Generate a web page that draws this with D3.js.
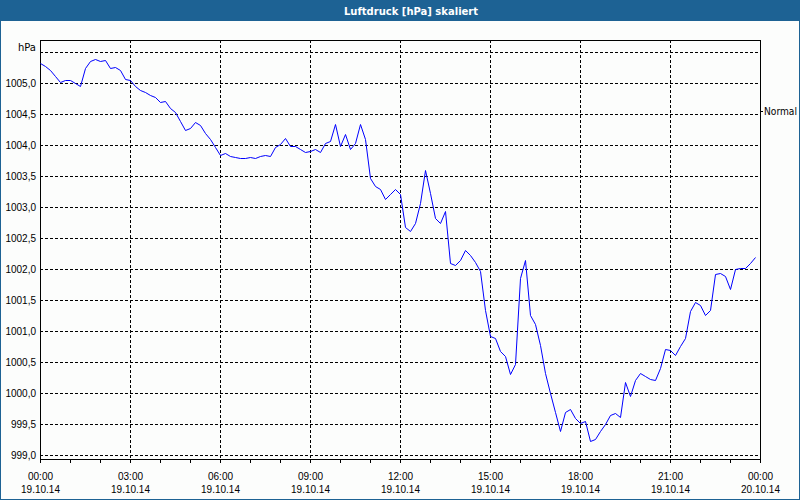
<!DOCTYPE html>
<html>
<head>
<meta charset="utf-8">
<script src="https://cdn.jsdelivr.net/npm/d3@7"></script>
<style>
body { margin: 0; background: #fcfdfc; }
svg { display: block; font-family: "DejaVu Sans", Tahoma, sans-serif; }
.axis .domain { display: none; }
.grid line { stroke: #000; stroke-dasharray: 3,2; }
.axis text { font-size: 10px; fill: #000; }
</style>
</head>
<body>
<div class="interactive-wrapper"></div>
<script>
// Luftdruck 19.10.14, alle 10 Minuten ab 00:00
const startTime = new Date(2014, 9, 19, 0, 0);
const stepMinutes = 10;
const pressure = [
  1005.33, 1005.28, 1005.21, 1005.12, 1005.01, 1005.05, 1005.05, 1005.00, 1004.95, 1005.24, 1005.36, 1005.39,
  1005.36, 1005.37, 1005.24, 1005.26, 1005.21, 1005.07, 1005.05, 1004.96, 1004.88, 1004.86, 1004.80, 1004.77,
  1004.69, 1004.71, 1004.59, 1004.54, 1004.39, 1004.25, 1004.27, 1004.37, 1004.33, 1004.19, 1004.10, 1003.96,
  1003.84, 1003.87, 1003.83, 1003.81, 1003.79, 1003.79, 1003.81, 1003.79, 1003.83, 1003.84, 1003.82, 1003.96,
  1004.02, 1004.11, 1003.99, 1003.99, 1003.94, 1003.88, 1003.90, 1003.94, 1003.88, 1004.03, 1004.07, 1004.34,
  1003.99, 1004.17, 1003.94, 1004.03, 1004.34, 1004.10, 1003.47, 1003.34, 1003.29, 1003.13, 1003.21, 1003.29,
  1003.21, 1002.68, 1002.61, 1002.75, 1003.06, 1003.60, 1003.23, 1002.82, 1002.74, 1002.93, 1002.10, 1002.07,
  1002.15, 1002.31, 1002.23, 1002.12, 1001.97, 1001.34, 1000.92, 1000.89, 1000.67, 1000.59, 1000.30, 1000.46,
  1001.85, 1002.14, 1001.25, 1001.12, 1000.78, 1000.32, 1000.00, 999.70, 999.39, 999.70, 999.74, 999.60,
  999.52, 999.55, 999.23, 999.25, 999.38, 999.50, 999.64, 999.68, 999.62, 1000.18, 999.95, 1000.21,
  1000.32, 1000.27, 1000.23, 1000.21, 1000.40, 1000.71, 1000.70, 1000.62, 1000.75, 1000.89, 1001.32, 1001.46,
  1001.42, 1001.25, 1001.34, 1001.92, 1001.94, 1001.89, 1001.67, 1002.00, 1002.02, 1002.01, 1002.10, 1002.19
];
const yGridValues = [999.0, 999.5, 1000.0, 1000.5, 1001.0, 1001.5, 1002.0, 1002.5, 1003.0, 1003.5, 1004.0, 1004.5, 1005.0, 1005.5];
const yLabelValues = [999.0, 999.5, 1000.0, 1000.5, 1001.0, 1001.5, 1002.0, 1002.5, 1003.0, 1003.5, 1004.0, 1004.5, 1005.0];
const yDomain = [998.935, 1005.694];
const xDomain = [new Date(2014, 9, 19, 0, 0), new Date(2014, 9, 20, 0, 0)];
const normalValue = 1004.55;
const title = "Luftdruck [hPa] skaliert";
const unit = "hPa";
const seriesName = "Normal";

let w = 800, h = 500;
let margin = {top: 40, right: 40, bottom: 41, left: 40};
let width = w - margin.left - margin.right;
let height = h - margin.top - margin.bottom;

let data = pressure.map((v, i) => ({date: d3.timeMinute.offset(startTime, i * stepMinutes), value: v}));

let locale = d3.formatLocale({decimal: ",", thousands: ".", grouping: [3], currency: ["", " €"]});
let fmtY = locale.format(".1f");
const formatTime = d3.timeFormat("%H:%M");
const formatDate = d3.timeFormat("%d.%m.%y");

let xScale = d3.scaleTime().domain(xDomain).range([0, width]);
let yScale = d3.scaleLinear().domain(yDomain).rangeRound([height, 0]);

let line = d3.line()
.x(d => Math.round(xScale(d.date)) + 0.5)
.y(d => yScale(d.value) + 0.5);

let svg = d3.select(".interactive-wrapper").append("svg")
.attr("width", w)
.attr("height", h);

svg.append("rect").attr("width", w).attr("height", h).attr("fill", "#fcfdfc");

// Titelleiste und Rahmen
svg.append("rect").attr("x", 0).attr("y", 0).attr("width", w).attr("height", 21).attr("fill", "#1d6294");
svg.append("rect").attr("x", 0.5).attr("y", 0.5).attr("width", w - 1).attr("height", h - 1)
.attr("fill", "none").attr("stroke", "#1d6294");
svg.append("text")
.text(title)
.attr("x", 411).attr("y", 14.5)
.attr("text-anchor", "middle")
.attr("fill", "#fff")
.style("font-size", "10px")
.style("font-weight", "bold");

let g = svg.append("g")
.attr("transform", "translate(" + margin.left + "," + margin.top + ")");

g.append("g")
.attr("class", "grid")
.call(d3.axisLeft(yScale).tickValues(yGridValues).tickSize(-width).tickFormat(""))
.select(".domain").remove();

let xGrid = g.append("g")
.attr("class", "grid")
.call(d3.axisBottom(xScale).ticks(d3.timeHour.every(3)).tickSize(height).tickFormat(""));
xGrid.select(".domain").remove();
xGrid.selectAll(".tick")
.filter(d => +d === +xDomain[0] || +d === +xDomain[1]).remove();

g.append("g")
.attr("class", "y axis")
.call(d3.axisLeft(yScale).tickValues(yLabelValues).tickSize(0).tickPadding(4).tickFormat(fmtY));

g.append("g")
.attr("class", "x axis")
.attr("transform", "translate(0," + height + ")")
.call(d3.axisBottom(xScale).ticks(d3.timeHour.every(1)).tickSize(4).tickFormat(""));

let xLabels = g.append("g")
.attr("class", "x axis labels")
.attr("transform", "translate(0," + height + ")")
.call(d3.axisBottom(xScale).ticks(d3.timeHour.every(3)).tickSize(0).tickFormat(""));

xLabels.selectAll(".tick text").remove();
xLabels.selectAll(".tick").each(function(d) {
  let t = d3.select(this).append("text").attr("text-anchor", "middle").attr("fill", "#000");
  t.append("tspan").attr("x", 0).attr("y", 21).text(formatTime(d));
  t.append("tspan").attr("x", 0).attr("y", 34).text(formatDate(d));
});

g.append("text")
.attr("class", "unit")
.text(unit)
.attr("x", -4).attr("y", 10.5)
.attr("text-anchor", "end")
.style("font-size", "10px");

g.append("rect")
.attr("x", 0.5).attr("y", 0.5)
.attr("width", width).attr("height", height)
.attr("fill", "none").attr("stroke", "#000");

g.append("path")
.datum(data)
.attr("fill", "none")
.attr("stroke", "#0000ff")
.attr("stroke-width", 1)
.attr("d", line);

g.append("line")
.attr("x1", width).attr("x2", width + 3)
.attr("y1", yScale(normalValue) + 0.5).attr("y2", yScale(normalValue) + 0.5)
.attr("stroke", "#000");

g.append("text")
.text(seriesName)
.attr("x", width + 4).attr("y", yScale(normalValue) + 4)
.attr("textLength", 33)
.attr("lengthAdjust", "spacingAndGlyphs")
.style("font-size", "10px");
</script>
</body>
</html>
